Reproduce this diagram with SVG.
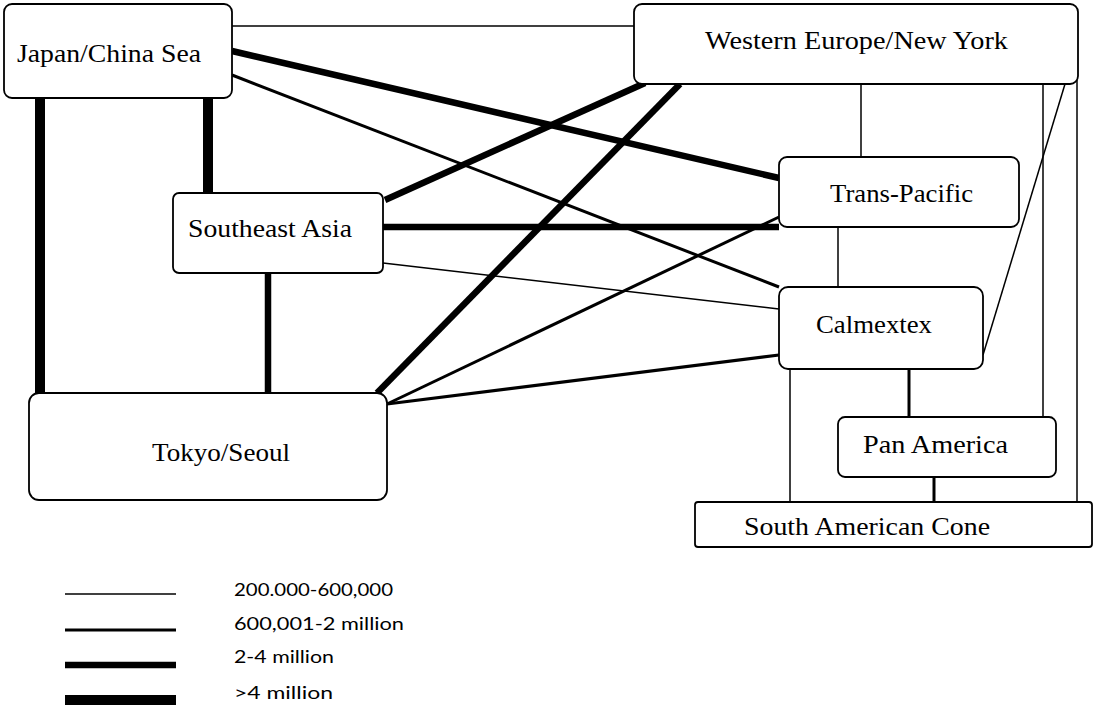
<svg xmlns="http://www.w3.org/2000/svg" width="1094" height="707" viewBox="0 0 1094 707">
<style>
.box{fill:#fff;stroke:#000;stroke-width:1.8}
.lbl{font-family:"Liberation Serif","Times New Roman",serif;font-size:25px;fill:#000}
.leg{font-family:Lato,"Open Sans","Liberation Sans",sans-serif;font-size:17px;fill:#000}
.c1{stroke:#000;stroke-width:1.5;fill:none}
.c2{stroke:#000;stroke-width:3;fill:none}
.c3{stroke:#000;stroke-width:6.5;fill:none}
.c4{stroke:#000;stroke-width:10;fill:none}
</style>
<rect width="1094" height="707" fill="#fff"/>
<g id="connectors">
<line class="c1" x1="232" y1="26" x2="634" y2="26"/>
<line class="c3" x1="232" y1="51" x2="779" y2="178"/>
<line class="c2" x1="232" y1="75" x2="779" y2="287"/>
<line class="c4" x1="208" y1="98" x2="208" y2="193"/>
<line class="c4" x1="40" y1="98" x2="40" y2="393"/>
<line class="c3" x1="385" y1="200" x2="645" y2="83"/>
<line class="c3" x1="377" y1="393" x2="680" y2="84"/>
<line class="c3" x1="383" y1="227" x2="779" y2="227"/>
<line class="c1" x1="383" y1="263" x2="779" y2="309"/>
<line class="c2" x1="387" y1="404" x2="779" y2="217"/>
<line class="c2" x1="387" y1="404" x2="779" y2="355"/>
<line class="c3" x1="268" y1="273" x2="268" y2="393"/>
<line class="c1" x1="861" y1="84" x2="861" y2="157"/>
<line class="c1" x1="838" y1="227" x2="838" y2="287"/>
<line class="c1" x1="1065" y1="84" x2="983" y2="355"/>
<line class="c1" x1="1043" y1="84" x2="1043" y2="417"/>
<line class="c1" x1="1077" y1="80" x2="1077" y2="502"/>
<line class="c2" x1="909" y1="369" x2="909" y2="417"/>
<line class="c1" x1="790" y1="369" x2="790" y2="502"/>
<line class="c2" x1="934" y1="477" x2="934" y2="502"/>
</g>
<g id="japan-china-sea">
<rect class="box" x="4" y="4" width="228" height="94" rx="8"/>
<text class="lbl" x="17" y="62" textLength="184" lengthAdjust="spacingAndGlyphs">Japan/China Sea</text>
</g>
<g id="western-europe-new-york">
<rect class="box" x="634" y="4" width="444" height="80" rx="8"/>
<text class="lbl" x="705" y="49" textLength="303" lengthAdjust="spacingAndGlyphs">Western Europe/New York</text>
</g>
<g id="trans-pacific">
<rect class="box" x="779" y="157" width="240" height="70" rx="8"/>
<text class="lbl" x="830" y="202" textLength="143" lengthAdjust="spacingAndGlyphs">Trans-Pacific</text>
</g>
<g id="southeast-asia">
<rect class="box" x="173" y="193" width="210" height="80" rx="6"/>
<text class="lbl" x="188" y="237" textLength="164" lengthAdjust="spacingAndGlyphs">Southeast Asia</text>
</g>
<g id="tokyo-seoul">
<rect class="box" x="29" y="393" width="358" height="107" rx="10"/>
<text class="lbl" x="152" y="461" textLength="138" lengthAdjust="spacingAndGlyphs">Tokyo/Seoul</text>
</g>
<g id="calmextex">
<rect class="box" x="779" y="287" width="204" height="82" rx="9"/>
<text class="lbl" x="816" y="333" textLength="116" lengthAdjust="spacingAndGlyphs">Calmextex</text>
</g>
<g id="pan-america">
<rect class="box" x="838" y="417" width="218" height="60" rx="7"/>
<text class="lbl" x="863" y="453" textLength="145" lengthAdjust="spacingAndGlyphs">Pan America</text>
</g>
<g id="south-american-cone">
<rect class="box" x="695" y="502" width="397" height="45" rx="3"/>
<text class="lbl" x="744" y="535" textLength="246" lengthAdjust="spacingAndGlyphs">South American Cone</text>
</g>
<g id="legend">
<line class="c1" x1="65" y1="594" x2="176" y2="594"/>
<line class="c2" x1="65" y1="630" x2="176" y2="630"/>
<line class="c3" x1="65" y1="665" x2="176" y2="665"/>
<line class="c4" x1="65" y1="700" x2="176" y2="700"/>
<text class="leg" x="234" y="596" textLength="159" lengthAdjust="spacingAndGlyphs">200.000-600,000</text>
<text class="leg" x="234" y="630" textLength="170" lengthAdjust="spacingAndGlyphs">600,001-2 million</text>
<text class="leg" x="234" y="663" textLength="100" lengthAdjust="spacingAndGlyphs">2-4 million</text>
<text class="leg" x="234" y="699" textLength="99" lengthAdjust="spacingAndGlyphs">&gt;4 million</text>
</g>
</svg>
